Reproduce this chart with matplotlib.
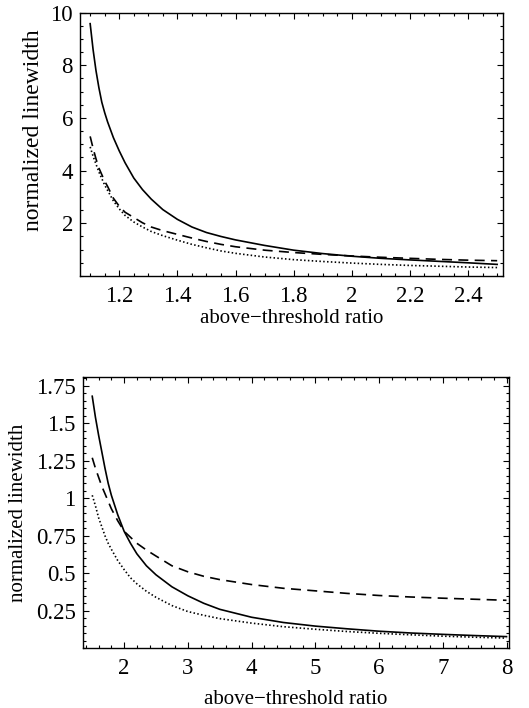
import matplotlib
matplotlib.use("Agg")
import matplotlib.pyplot as plt
from matplotlib.ticker import MultipleLocator

plt.rcParams['font.family'] = ['Liberation Serif', 'DejaVu Serif']

# ---- top panel data ----
top_x = [1.10, 1.11, 1.12, 1.13, 1.14, 1.15, 1.16, 1.18, 1.20, 1.22, 1.25,
         1.28, 1.31, 1.35, 1.40, 1.45, 1.50, 1.55, 1.60, 1.70, 1.80, 1.90,
         2.00, 2.10, 2.20, 2.30, 2.40, 2.50]
top_solid = [9.58, 8.6, 7.8, 7.15, 6.6, 6.2, 5.85, 5.25, 4.75, 4.3, 3.72,
             3.28, 2.92, 2.52, 2.15, 1.86, 1.65, 1.50, 1.37, 1.16, 0.98, 0.85,
             0.75, 0.67, 0.61, 0.555, 0.50, 0.44]
top_dashed = [5.3, 4.85, 4.45, 4.1, 3.85, 3.6, 3.4, 2.95, 2.65, 2.42, 2.22,
              2.02, 1.86, 1.72, 1.58, 1.44, 1.31, 1.20, 1.11, 0.98, 0.89, 0.82,
              0.76, 0.71, 0.67, 0.63, 0.60, 0.58]
top_dotted = [4.9, 4.55, 4.25, 3.95, 3.7, 3.45, 3.25, 2.85, 2.55, 2.3, 2.05,
              1.86, 1.69, 1.53, 1.36, 1.20, 1.07, 0.95, 0.86, 0.72, 0.62, 0.55,
              0.49, 0.44, 0.40, 0.37, 0.34, 0.32]
top_xticks = [1.2, 1.4, 1.6, 1.8, 2.0, 2.2, 2.4]
top_xticklabels = ["1.2", "1.4", "1.6", "1.8", "2", "2.2", "2.4"]
top_yticks = [2, 4, 6, 8, 10]
top_yticklabels = ["2", "4", "6", "8", "10"]

# ---- bottom panel data ----
bot_x = [1.5, 1.55, 1.6, 1.65, 1.7, 1.75, 1.8, 1.9, 2.0, 2.1, 2.2, 2.35, 2.5,
         2.75, 3.0, 3.25, 3.5, 4.0, 4.5, 5.0, 5.5, 6.0, 6.5, 7.0, 7.5, 8.0]
bot_solid = [1.68, 1.54, 1.42, 1.31, 1.20, 1.10, 1.02, 0.89, 0.78, 0.70, 0.63,
             0.55, 0.49, 0.41, 0.35, 0.30, 0.26, 0.207, 0.172, 0.148, 0.13,
             0.114, 0.102, 0.093, 0.085, 0.078]
bot_dashed = [1.27, 1.20, 1.14, 1.08, 1.03, 0.98, 0.93, 0.85, 0.78, 0.74, 0.70,
              0.655, 0.615, 0.55, 0.51, 0.48, 0.458, 0.425, 0.40, 0.383,
              0.366, 0.352, 0.342, 0.334, 0.327, 0.32]
bot_dotted = [1.02, 0.95, 0.87, 0.81, 0.75, 0.70, 0.66, 0.585, 0.525, 0.47,
              0.43, 0.38, 0.34, 0.285, 0.245, 0.22, 0.198, 0.168, 0.144, 0.127,
              0.112, 0.10, 0.09, 0.081, 0.074, 0.068]
bot_xticks = [2, 3, 4, 5, 6, 7, 8]
bot_xticklabels = ["2", "3", "4", "5", "6", "7", "8"]
bot_yticks = [0.25, 0.5, 0.75, 1.0, 1.25, 1.5, 1.75]
bot_yticklabels = ["0.25", "0.5", "0.75", "1", "1.25", "1.5", "1.75"]

xlabel = "above\u2212threshold ratio"
ylabel = "normalized linewidth"

fig = plt.figure(figsize=(5.29, 7.08), dpi=100)
ax1 = fig.add_axes([0.1512, 0.6102, 0.7996, 0.372])
ax2 = fig.add_axes([0.1563, 0.0843, 0.806, 0.3836])

def style(ax, x, s, d, o, xt, xtl, yt, ytl, xlim, ylim, xminor, yminor,
          ylabsize, xlabpad, ylabcoords):
    ax.plot(x, s, color='black', lw=1.2)
    ax.plot(x, d, color='black', lw=1.2, dashes=(6, 3.8))
    ax.plot(x, o, color='black', lw=1.2, dashes=(0.9, 1.4))
    ax.set_xlim(*xlim)
    ax.set_ylim(*ylim)
    ax.set_xticks(xt)
    ax.set_xticklabels(xtl)
    ax.set_yticks(yt)
    ax.set_yticklabels(ytl)
    ax.xaxis.set_minor_locator(MultipleLocator(xminor))
    ax.yaxis.set_minor_locator(MultipleLocator(yminor))
    ax.tick_params(which='both', direction='in', top=True, right=True,
                   labelsize=16.5, width=0.8)
    ax.tick_params(which='major', length=4)
    ax.tick_params(which='minor', length=2)
    ax.tick_params(axis='x', which='major', pad=7)
    ax.tick_params(axis='y', which='major', pad=5)
    for sp in ax.spines.values():
        sp.set_linewidth(1.0)
    ax.set_xlabel(xlabel, fontsize=15, labelpad=xlabpad)
    ax.set_ylabel(ylabel, fontsize=ylabsize)
    ax.yaxis.set_label_coords(*ylabcoords)

style(ax1, top_x, top_solid, top_dashed, top_dotted, top_xticks, top_xticklabels,
      top_yticks, top_yticklabels, (1.065, 2.52), (0, 10), 0.05, 0.5,
      17, 2, (-0.085, 0.555))
style(ax2, bot_x, bot_solid, bot_dashed, bot_dotted, bot_xticks, bot_xticklabels,
      bot_yticks, bot_yticklabels, (1.35, 8.04), (0, 1.81), 0.2, 0.05,
      15, 8, (-0.128, 0.5))

fig.savefig("out.png", dpi=100)
